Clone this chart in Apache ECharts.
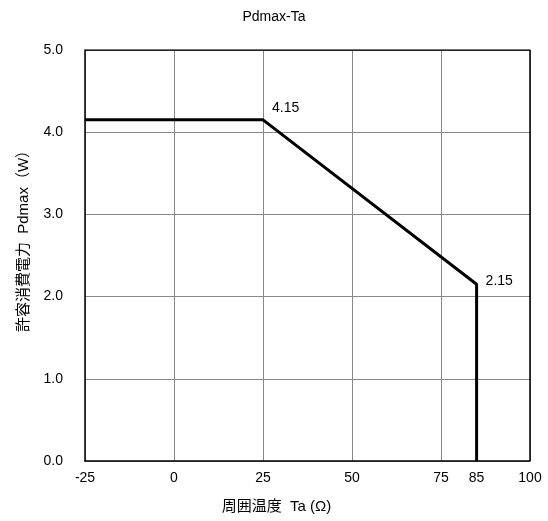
<!DOCTYPE html>
<html>
<head>
<meta charset="utf-8">
<script src="https://cdn.jsdelivr.net/npm/echarts@6/dist/echarts.min.js"></script>
<style>
  html, body { margin: 0; padding: 0; background: #fff; }
  #chart { width: 548px; height: 521px; }
</style>
</head>
<body>
<div id="chart"></div>
<script>
// derating curve
const tempPoints = [-25, 25, 85, 85];
const powerPoints = [4.15, 4.15, 2.15, 0];
const pointLabels = ['', '4.15', '2.15', ''];
const xLabelValues = [-25, 0, 25, 50, 75, 85, 100];

const font = '"Liberation Sans", Arial, "Noto Sans CJK JP", sans-serif';
const labelOffsets = [null, [4, -12], [4, -3], null];

const chart = echarts.init(document.getElementById('chart'), null, { renderer: 'canvas' });

chart.setOption({
  animation: false,
  title: {
    text: 'Pdmax-Ta',
    left: 'center',
    top: 5,
    textStyle: { fontFamily: font, fontSize: 14, fontWeight: 'normal', color: '#000' },
  },
  grid: { left: 85, right: 18, top: 50, bottom: 60 },
  xAxis: {
    type: 'value',
    min: -25,
    max: 100,
    interval: 25,
    name: '周囲温度  Ta (Ω)',
    nameLocation: 'middle',
    nameGap: 38,
    nameTextStyle: { fontFamily: font, fontSize: 15, color: '#000', padding: [0, 62, 0, 0] },
    axisLine: { lineStyle: { color: '#000', width: 1.5 } },
    axisTick: { show: false },
    axisLabel: {
      customValues: xLabelValues,
      fontFamily: font,
      fontSize: 14,
      color: '#000',
      margin: 10,
    },
    splitLine: { show: true, lineStyle: { color: '#888', width: 1 } },
  },
  yAxis: {
    type: 'value',
    min: 0,
    max: 5,
    interval: 1,
    name: '許容消費電力  Pdmax（W）',
    nameLocation: 'middle',
    nameGap: 54,
    nameTextStyle: { fontFamily: font, fontSize: 15, color: '#000', padding: [0, 0, 0, 36] },
    axisLine: { show: true, onZero: false, lineStyle: { color: '#000', width: 1.5 } },
    axisTick: { show: false },
    axisLabel: {
      formatter: v => v.toFixed(1),
      fontFamily: font,
      fontSize: 14,
      color: '#000',
      margin: 22,
    },
    splitLine: { show: true, lineStyle: { color: '#888', width: 1 } },
  },
  series: [
    {
      type: 'line',
      data: tempPoints.map((t, i) => [t, powerPoints[i]]),
      symbol: 'none',
      lineStyle: { color: '#000', width: 3 },
      label: { show: false },
      markPoint: {
        symbol: 'circle',
        symbolSize: 0,
        data: pointLabels
          .map((txt, i) => ({
            coord: [tempPoints[i], powerPoints[i]],
            value: txt,
            label: { offset: labelOffsets[i] },
          }))
          .filter(d => d.value),
        label: {
          show: true,
          position: 'right',
          formatter: p => p.value,
          fontFamily: font,
          fontSize: 14,
          color: '#000',
        },
      },
    },
    {
      // frame on top and right
      type: 'line',
      data: [[-25, 5], [100, 5], [100, 0]],
      symbol: 'none',
      silent: true,
      lineStyle: { color: '#000', width: 1.5 },
    },
  ],
});
</script>
</body>
</html>
